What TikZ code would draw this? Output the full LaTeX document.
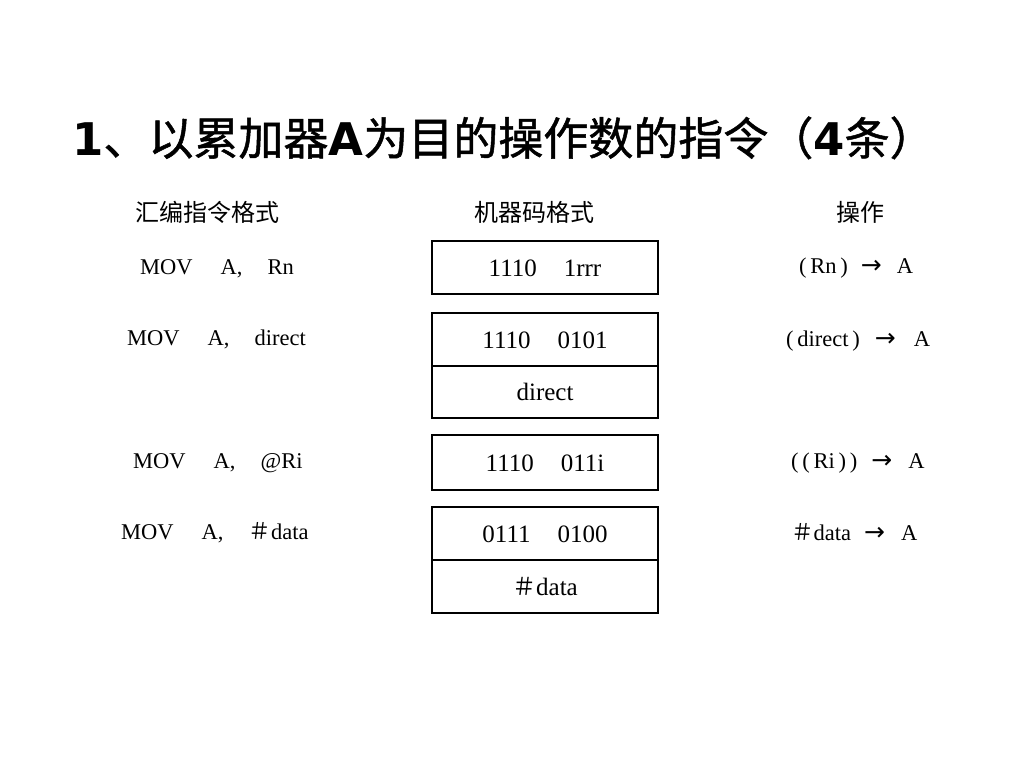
\documentclass[tikz,border=0pt]{standalone}
\usepackage{fontspec}
\setmainfont{Liberation Serif}
\newfontfamily\cjk{Noto Sans CJK SC}
\newfontfamily\cjkb{Noto Sans CJK SC}[FakeBold=1.1]
\newfontfamily\tlat{DejaVu Sans}
\newfontfamily\arr{DejaVu Sans}
\newcommand{\gapA}{\hspace{28pt}}
\newcommand{\gapB}{\hspace{25pt}}
\newcommand{\rarr}{{\arr\fontsize{25}{26}\selectfont →}}
\begin{document}
\begin{tikzpicture}[x=1pt,y=-1pt,
  txt/.style={inner sep=0pt, anchor=base west, font=\fontsize{22.5}{26}\selectfont},
  hdr/.style={inner sep=0pt, anchor=base, font=\cjk\fontsize{24}{28}\selectfont},
  cell/.style={draw, line width=1.4pt, minimum width=226pt, inner sep=0pt,
    text height=17pt, text depth=0pt, font=\fontsize{25}{30}\selectfont}]
\useasboundingbox[fill=white] (0,0) rectangle (1024,768);

% title
\node[inner sep=0pt, anchor=base west] (title) at (72,155)
  {\fontsize{45}{50}\selectfont{\tlat\bfseries 1}{\cjkb 、以累加器}{\tlat\bfseries A}{\cjkb 为目的操作数的指令（}{\tlat\bfseries 4}{\cjkb 条）}};

% headers
\node[hdr] (h1) at (207,221) {汇编指令格式};
\node[hdr] (h2) at (534,221) {机器码格式};
\node[hdr] (h3) at (860,221) {操作};

% assembly column
\node[txt] (a1) at (140,274) {MOV\gapA A,\gapB Rn};
\node[txt] (a2) at (127,345) {MOV\gapA A,\gapB direct};
\node[txt] (a3) at (133,468) {MOV\gapA A,\gapB @Ri};
\node[txt] (a4) at (121,539) {MOV\gapA A,\gapB {\cjk ＃}data};

% machine code column
\node[cell, minimum height=53pt] (m1) at (545,267.5) {1110\hspace{27pt}1rrr};
\node[cell, minimum height=53pt] (m2a) at (545,339.5) {1110\hspace{27pt}0101};
\node[cell, minimum height=52pt] (m2b) at (545,392) {direct};
\node[cell, minimum height=55pt] (m3) at (545,462.5) {1110\hspace{27pt}011i};
\node[cell, minimum height=53pt] (m4a) at (545,533.5) {0111\hspace{27pt}0100};
\node[cell, minimum height=53pt] (m4b) at (545,586.5) {{\cjk\fontsize{24}{28}\selectfont ＃}data};

% operation column
\node[txt] (o1) at (799,273) {(\,Rn\,)\hspace{13pt}\rarr\hspace{15pt}A};
\node[txt] (o2) at (786,346) {(\,direct\,)\hspace{15pt}\rarr\hspace{18pt}A};
\node[txt] (o3) at (791,468) {(\,(\,Ri\,)\,)\hspace{14pt}\rarr\hspace{16pt}A};
\node[txt] (o4) at (791,540) {{\cjk ＃}data\hspace{13pt}\rarr\hspace{16pt}A};
\end{tikzpicture}
\end{document}
